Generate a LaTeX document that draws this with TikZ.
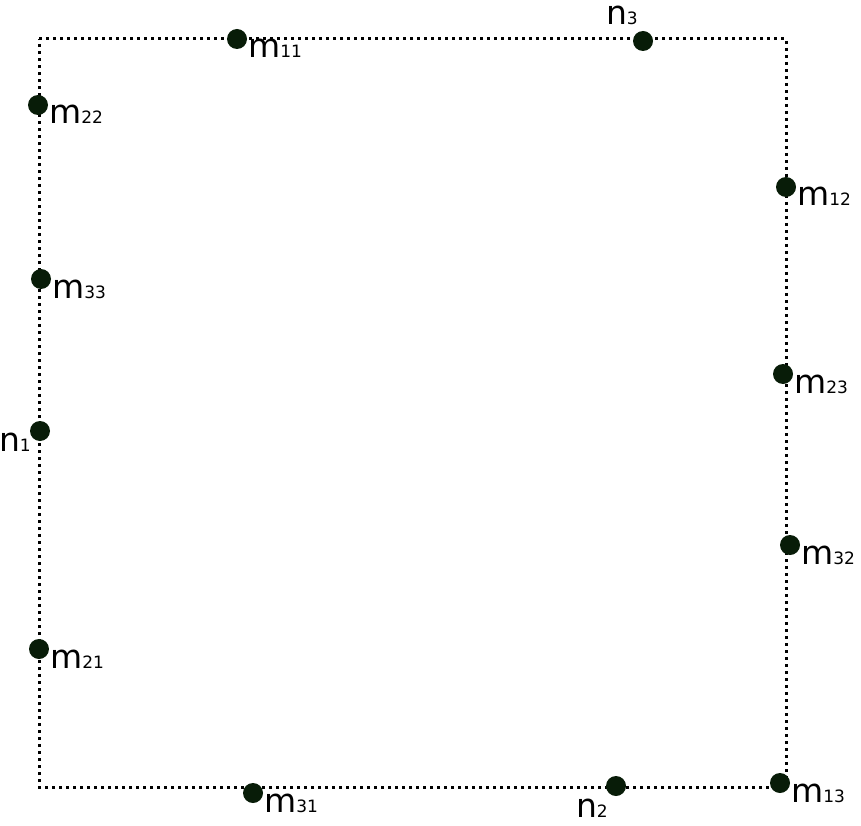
\documentclass[tikz,border=0pt]{standalone}
\usepackage{fontspec}
\setmainfont{DejaVu Sans}
\usepackage{tikz}
\usetikzlibrary{positioning}

\definecolor{dotfill}{RGB}{8,28,8}
\newcommand{\ptname}[2]{{\fontsize{33}{33}\selectfont #1}{\fontsize{17}{17}\selectfont #2}}

\begin{document}
\begin{tikzpicture}[
	x=1pt, y=-1pt,
	border/.style = {draw=black, line width=3pt, dash pattern=on 3pt off 4pt},
	pt/.style     = {circle, fill=dotfill, inner sep=0pt, minimum size=20pt},
	mlbl/.style   = {inner sep=0pt, anchor=base west},
	nlbl/.style   = {inner sep=0pt, anchor=base east}]
	
	\useasboundingbox (0,0) rectangle (861,826);
	
	% corners of the square
	\coordinate (tl) at (39,39);
	\coordinate (tr) at (786,39);
	\coordinate (br) at (786,787);
	\coordinate (bl) at (39,787);
	\draw[border] (tl) -- (tr) -- (br) -- (bl) -- cycle;
	
	% points on the border
	\foreach \name/\px/\py in {m11/237/39, n3/643/41, m22/38/105, m12/786/187,
		m33/41/279, m23/783/374, n1/40/431, m32/790/545, m21/39/649,
		m31/253/793, n2/616/786, m13/780/783}
	\node[pt] (\name) at (\px,\py) {};
	
	% labels
	\foreach \name/\sub in {11/11, 22/22, 12/12, 33/33, 23/23, 32/32, 21/21, 31/31, 13/13}
	\node[mlbl] (m\name-t) at ([shift={(11,19)}]m\name) {\ptname{m}{\sub}};
	
	\node[nlbl] (n1-t) at ([shift={(-9,20)}]n1) {\ptname{n}{1}};
	\node[nlbl] (n2-t) at ([shift={(-8,31)}]n2) {\ptname{n}{2}};
	\node[nlbl] (n3-t) at ([shift={(-5,-16)}]n3) {\ptname{n}{3}};
	
\end{tikzpicture}
\end{document}
